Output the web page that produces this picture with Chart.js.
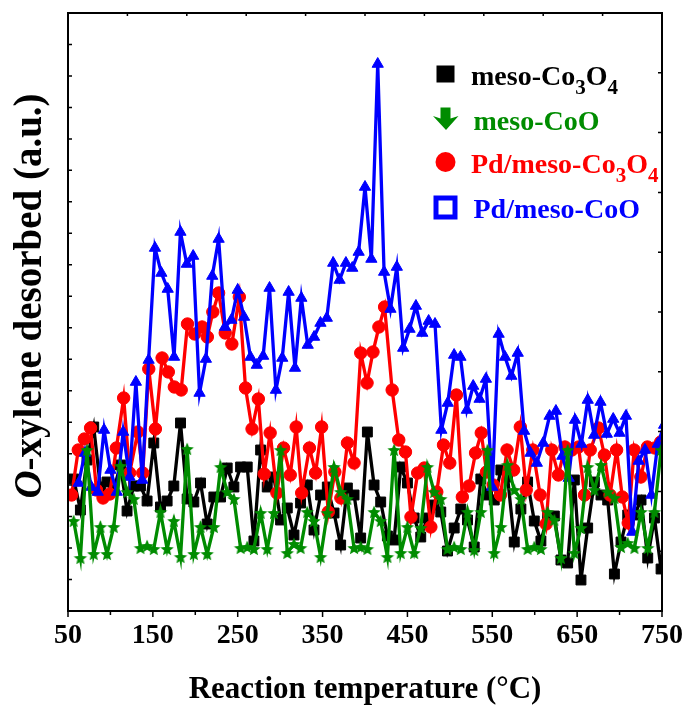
<!DOCTYPE html>
<html>
<head>
<meta charset="utf-8">
<script src="https://cdn.jsdelivr.net/npm/chart.js@4/dist/chart.umd.min.js"></script>
<style>
html,body{margin:0;padding:0;background:#fff;}
#wrap{width:691px;height:713px;}
</style>
</head>
<body>
<div id="wrap"><canvas id="c" width="691" height="713"></canvas></div>
<script>
// ---------------- DATA ----------------
const xTickLabels = [50, 150, 250, 350, 450, 550, 650, 750];
const xMinorTicks = [100, 200, 300, 400, 500, 600, 700];

// sampling temperatures shared by meso-Co3O4 and meso-CoO
const tempsCo = [
 56.7,64.6,72.4,80.3,88.2,96.0,103.9,111.8,119.6,127.5,
 135.4,143.2,151.1,159.0,166.8,174.7,182.6,190.4,198.3,206.2,
 214.0,221.9,229.8,237.6,245.5,253.4,261.2,269.1,277.0,284.8,
 292.7,300.5,308.4,316.3,324.1,332.0,339.9,347.7,355.6,363.5,
 371.3,379.2,387.1,394.9,402.8,410.7,418.5,426.4,434.3,442.1,
 450.0,457.9,465.7,473.6,481.5,489.3,497.2,505.1,512.9,520.8,
 528.7,536.5,544.4,552.3,560.1,568.0,575.9,583.7,591.6,599.5,
 607.3,615.2,623.1,630.9,638.8,646.7,654.5,662.4,670.3,678.1,
 686.0,693.9,701.7,709.6,717.5,725.3,733.2,741.1,748.9
];
const mesoCo3O4 = [
 132,101,151,184,124,129,121,146,100,125,
 125,110,168,104,110,125,188,112,109,128,
 87,114,114,143,124,144,144,70,161,124,
 134,91,103,76,108,126,81,116,124,98,
 66,123,116,73,179,126,109,75,71,144,
 128,93,74,93,106,99,60,83,102,91,
 64,132,116,111,141,134,69,102,129,90,
 70,94,95,51,48,131,31,83,129,116,
 111,37,69,96,96,111,53,93,42
];
const mesoCoO = [
 90,53,161,57,84,57,84,145,119,112,
 63,65,62,99,62,90,54,162,57,84,
 57,84,144,119,112,63,64,62,98,62,
 98,161,58,67,63,99,90,54,98,144,
 119,112,63,64,62,99,90,54,161,58,
 84,58,83,144,119,112,62,64,62,99,
 61,99,161,58,84,146,121,112,62,64,
 62,99,91,53,161,58,83,144,121,146,
 119,113,64,68,63,99,63,99,161
];
const tempsPdCo3O4 = [
 54.3,62.1,69.3,76.6,83.6,91.3,99.2,107.0,115.6,122.6,
 132.3,138.1,145.2,153.0,160.9,168.2,175.3,183.4,190.8,199.3,
 208.0,214.2,220.7,227.5,235.3,243.1,251.9,259.2,266.9,274.3,
 281.2,288.2,296.2,304.0,311.9,318.9,325.4,334.5,341.8,348.9,
 356.7,364.5,371.6,379.3,387.1,395.0,402.4,409.4,416.4,423.1,
 432.0,439.8,447.7,454.2,462.1,469.9,477.6,484.6,492.5,499.9,
 507.7,514.7,522.6,530.3,537.0,543.2,551.0,559.6,567.4,575.2,
 583.0,590.0,597.8,606.4,613.4,620.1,627.9,635.6,643.8,651.7,
 658.7,665.4,675.1,682.1,688.8,696.5,703.2,710.2,717.2,725.1,
 732.8,741.5,748.5
];
const pdCo3O4 = [
 116,161,172,183,121,113,117,163,213,138,
 179,138,242,182,253,239,224,221,287,277,
 284,274,299,318,278,267,314,223,182,212,
 137,178,118,163,136,184,118,163,138,184,
 99,139,113,168,148,258,228,259,284,304,
 221,171,159,94,138,143,84,119,166,148,
 216,114,125,158,178,139,126,116,161,141,
 184,121,161,116,87,161,136,164,161,164,
 116,161,183,156,116,161,114,88,161,134,
 164,163,169
];
const tempsPdCoO = [
 62.5,70,77.5,85,92.5,100,107.5,115,122.5,130,
 137.5,145,152.5,160,167.5,175,182.5,190,197.5,205,
 212.5,220,227.5,235,242.5,250,257.5,265,272.5,280,
 287.5,295,302.5,310,317.5,325,332.5,340,347.5,355,
 362.5,370,377.5,385,392.5,400,407.5,415,422.5,430,
 437.5,445,452.5,460,467.5,475,482.5,490,497.5,505,
 512.5,520,527.5,535,542.5,550,557.5,565,572.5,580,
 587.5,595,602.5,610,617.5,625,632.5,640,647.5,655,
 662.5,670,677.5,685,692.5,700,707.5,715,722.5,730,
 737.5,745,752.5
];
const pdCoO = [
 128,158,124,119,181,141,119,179,134,229,
 131,251,363,338,322,254,379,347,355,218,
 252,335,372,284,291,321,294,254,246,255,
 323,221,253,319,243,313,266,274,288,293,
 348,331,348,343,359,424,352,547,339,302,
 344,263,282,305,278,290,287,181,208,256,
 254,201,225,212,232,124,277,254,235,258,
 180,158,148,168,195,200,155,133,191,167,
 211,176,209,177,192,178,195,79,150,161,
 116,167,186
];

const seriesLabels = ['meso-Co\u2083O\u2084', 'meso-CoO', 'Pd/meso-Co\u2083O\u2084', 'Pd/meso-CoO'];
const seriesColors = ['#000000', '#008c00', '#ff0000', '#0000ff'];
const xTitle = 'Reaction temperature (\u00B0C)';
const yTitleItalic = 'O';
const yTitleRest = '-xylene desorbed (a.u.)';

// ---------------- STYLE HELPERS ----------------
const SERIF = '"Liberation Serif", "Times New Roman", serif';

function starImage(color, R) {
  const c = document.createElement('canvas');
  const s = Math.ceil(R * 2 + 2);
  c.width = s; c.height = s;
  const g = c.getContext('2d');
  g.fillStyle = color;
  g.beginPath();
  for (let i = 0; i < 10; i++) {
    const r = (i % 2) ? R * 0.45 : R;
    const a = -Math.PI / 2 + i * Math.PI / 5;
    const px = s / 2 + r * Math.cos(a), py = s / 2 + 0.6 + r * Math.sin(a);
    if (i === 0) g.moveTo(px, py); else g.lineTo(px, py);
  }
  g.closePath();
  g.fill();
  return c;
}

function pts(xs, ys) { return xs.map((t, i) => ({ x: t, y: ys[i] })); }

// ---------------- PLUGINS ----------------
function drawSubText(ctx, text, x, y, size, color) {
  const subMap = { '\u2080':'0','\u2081':'1','\u2082':'2','\u2083':'3','\u2084':'4','\u2085':'5','\u2086':'6','\u2087':'7','\u2088':'8','\u2089':'9' };
  ctx.fillStyle = color;
  ctx.textBaseline = 'alphabetic';
  ctx.textAlign = 'left';
  let cx = x;
  for (const ch of text) {
    if (subMap[ch]) {
      ctx.font = 'bold ' + Math.round(size * 0.76) + 'px ' + SERIF;
      ctx.fillText(subMap[ch], cx, y + size * 0.33);
      cx += ctx.measureText(subMap[ch]).width;
    } else {
      ctx.font = 'bold ' + size + 'px ' + SERIF;
      ctx.fillText(ch, cx, y);
      cx += ctx.measureText(ch).width;
    }
  }
}

const framePlugin = {
  id: 'frame',
  afterDatasetsDraw(chart) {
    const { ctx, chartArea: a, scales: { x, y } } = chart;
    ctx.save();
    ctx.strokeStyle = '#000';
    ctx.lineWidth = 2;
    ctx.strokeRect(a.left, a.top, a.right - a.left, a.bottom - a.top);
    ctx.lineWidth = 1.5;
    ctx.beginPath();
    xTickLabels.forEach(v => { const p = x.getPixelForValue(v); ctx.moveTo(p, a.bottom); ctx.lineTo(p, a.bottom + 6); });
    xMinorTicks.forEach(v => { const p = x.getPixelForValue(v); ctx.moveTo(p, a.bottom); ctx.lineTo(p, a.bottom + 4); });
    const ySpan = y.max - y.min;
    for (let i = 1; i < 19; i++) { const p = y.getPixelForValue(y.min + ySpan * i / 19); ctx.moveTo(a.left, p); ctx.lineTo(a.left + 4, p); }
    for (let i = 1; i < 10; i++) { const p = y.getPixelForValue(y.min + ySpan * i / 10); ctx.moveTo(a.right, p); ctx.lineTo(a.right - 4, p); }
    const xSpan = x.max - x.min;
    for (let i = 1; i < 10; i++) { const p = x.getPixelForValue(x.min + xSpan * i / 10); ctx.moveTo(p, a.top); ctx.lineTo(p, a.top + 3); }
    ctx.stroke();
    ctx.restore();
  },
  afterDraw(chart) {
    const { ctx } = chart;
    // y-axis title
    ctx.save();
    ctx.translate(31, 296);
    ctx.rotate(-Math.PI / 2);
    const f1 = 'italic bold 39px ' + SERIF, f2 = 'bold 39px ' + SERIF;
    ctx.font = f1; const w1 = ctx.measureText(yTitleItalic).width;
    ctx.font = f2; const w2 = ctx.measureText(yTitleRest).width;
    const start = -(w1 + w2) / 2;
    ctx.fillStyle = '#000';
    ctx.textBaseline = 'middle';
    ctx.textAlign = 'left';
    ctx.font = f1; ctx.fillText(yTitleItalic, start, 0);
    ctx.font = f2; ctx.fillText(yTitleRest, start + w1, 0);
    ctx.restore();

    // legend
    ctx.save();
    const rows = [74, 119, 162, 207.5];
    const textX = [471, 473.5, 471, 473.5];
    const mx = 445.5;
    chart.data.datasets.forEach((ds, i) => {
      const cy = rows[i];
      const col = seriesColors[i];
      ctx.fillStyle = col; ctx.strokeStyle = col;
      if (i === 0) {
        ctx.fillRect(mx - 9, cy - 8.5, 18, 17);
      } else if (i === 1) {
        ctx.beginPath();
        ctx.moveTo(mx - 5, cy - 11.5); ctx.lineTo(mx + 5, cy - 11.5);
        ctx.lineTo(mx + 5, cy - 0.5); ctx.lineTo(mx + 13, cy - 3);
        ctx.lineTo(mx + 0.5, cy + 11); ctx.lineTo(mx - 12.5, cy - 3);
        ctx.lineTo(mx - 5, cy - 0.5); ctx.closePath(); ctx.fill();
      } else if (i === 2) {
        ctx.beginPath(); ctx.arc(mx, cy, 10, 0, Math.PI * 2); ctx.fill();
      } else {
        ctx.lineWidth = 5;
        ctx.strokeRect(mx - 9.5, cy - 9.5, 19, 19);
      }
      drawSubText(ctx, ds.label, textX[i], cy + 10.5, 28, col);
    });
    ctx.restore();
  }
};

// ---------------- CHART ----------------
const star = starImage(seriesColors[1], 7);
new Chart(document.getElementById('c'), {
  type: 'line',
  data: {
    datasets: [
      { label: seriesLabels[0], data: pts(tempsCo, mesoCo3O4), borderColor: seriesColors[0], backgroundColor: seriesColors[0],
        borderWidth: 3.3, pointStyle: 'rect', pointRadius: 7, pointBorderWidth: 1, order: 3 },
      { label: seriesLabels[1], data: pts(tempsCo, mesoCoO), borderColor: seriesColors[1], backgroundColor: seriesColors[1],
        borderWidth: 3.3, pointStyle: star, pointRadius: 7, order: 0 },
      { label: seriesLabels[2], data: pts(tempsPdCo3O4, pdCo3O4), borderColor: seriesColors[2], backgroundColor: seriesColors[2],
        borderWidth: 3.3, pointStyle: 'circle', pointRadius: 6.2, pointBorderWidth: 1, order: 2 },
      { label: seriesLabels[3], data: pts(tempsPdCoO, pdCoO), borderColor: seriesColors[3], backgroundColor: seriesColors[3],
        borderWidth: 3.3, pointStyle: 'triangle', pointRadius: 6.5, pointBorderWidth: 1, order: 1 }
    ]
  },
  options: {
    responsive: false,
    animation: false,
    devicePixelRatio: 1,
    layout: { padding: { left: 0, right: 26, top: 13, bottom: 0 } },
    plugins: { legend: { display: false }, tooltip: { enabled: false } },
    elements: { line: { tension: 0 } },
    scales: {
      x: {
        type: 'linear', min: 50, max: 750,
        afterBuildTicks: s => { s.ticks = xTickLabels.map(v => ({ value: v })); },
        afterFit: s => { s.height = 102; },
        grid: { display: false, drawTicks: false },
        border: { display: false },
        ticks: { font: { family: SERIF, weight: 'bold', size: 28 }, color: '#000', padding: 8, maxRotation: 0, autoSkip: false },
        title: { display: true, text: xTitle, color: '#000', font: { family: SERIF, weight: 'bold', size: 31 }, padding: { top: 0, bottom: 4 } }
      },
      y: {
        min: 0, max: 598,
        afterFit: s => { s.width = 68; },
        ticks: { display: false },
        grid: { display: false },
        border: { display: false }
      }
    }
  },
  plugins: [framePlugin]
});
</script>
</body>
</html>
